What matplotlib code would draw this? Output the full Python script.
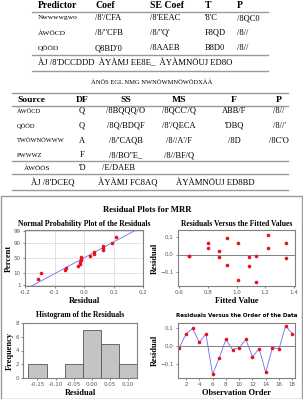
import matplotlib
matplotlib.use("Agg")
import matplotlib.pyplot as plt
import numpy as np
from matplotlib.patches import Rectangle
from statistics import NormalDist

# Data
obs_order = np.arange(1, 19)
residuals = [-0.010, 0.065, 0.095, 0.020, 0.065, -0.155, -0.065, 0.035, -0.020,
             -0.010, 0.035, -0.060, -0.015, -0.145, -0.010, -0.015, 0.110, 0.065]
fitted = [0.67, 0.80, 0.93, 0.88, 1.01, 1.14, 1.09, 0.80, 1.35,
          0.67, 1.22, 0.93, 0.88, 1.01, 1.14, 1.09, 1.22, 1.35]
hist_centers = [-0.15, -0.10, -0.05, 0.00, 0.05, 0.10]
hist_counts = [2, 0, 2, 7, 5, 2]
prob_ticks = [1, 10, 50, 90, 99]

# table texts (as they appear in the picture)
coef_header = ["Predictor", "Coef", "SE Coef", "T", "P"]
coef_rows = [
    ["Nwwwwgwo", "/8'/CFA", "/8'EEAC", "'8'C", "/8QC0"],
    ["ÀWÖCD", "/8/''CFB", "/8/''Q'", "F8QD", "/8//"],
    ["QÖÖD", "Q8BD'0", "/8AAEB", "B8D0", "/8//"],
]
coef_summary = "ÀJ /8'DCCDDD  ÀYÀMJ EE8E_  ÀYÀMNÖUJ ED8O"
anova_title = "ÀNÖS EGL NMG NWNÖWMNÖWÖDXÀÀ"
anova_header = ["Source", "DF", "SS", "MS", "F", "P"]
anova_rows = [
    ["ÀWÖCD", "Q", "/8BQQQ/O", "/8QCC'/Q", "ABB/F", "/8//"],
    ["QÖÖD", "Q", "/8Q/BDQF", "/8'/QECA", "'DBQ", "/8//'"],
    ["TWÖWNÖWWW", "A", "/8/'CAQB", "/8//A'/F", "/8D", "/8C'O"],
    ["PWWWZ", "F", "/8/BO''E_", "/8//BF/Q", "", ""],
]
anova_total = ["ÀWÖÖS", "'D", "/E/DAEB"]
anova_summary = ["ÀJ /8'DCEQ", "ÀYÀMJ FC8AQ", "ÀYÀMNÖUJ ED8BD"]

W, H = 303, 399
fig = plt.figure(figsize=(W / 100, H / 100), dpi=100)
serif = "Liberation Serif"
gray = "#9a9a9a"


def fx(px):
    return px / W


def fy(py):
    return 1 - py / H


def hline(y, x0, x1):
    fig.add_artist(plt.Line2D([fx(x0), fx(x1)], [fy(y), fy(y)], color=gray, lw=1.0))


# ---- coefficient table ----
cx = [38, 95, 150, 205, 237]
for x, t in zip(cx, coef_header):
    fig.text(fx(x), fy(6), t, family=serif, weight="bold", fontsize=7, va="center")
hline(11.5, 32, 268)
for i, row in enumerate(coef_rows):
    y = 18 + i * 15
    for j, (x, t) in enumerate(zip(cx, row)):
        fig.text(fx(x), fy(y), t, family=serif, fontsize=5.4 if j == 0 else 6,
                 va="center")
hline(55, 32, 268)
fig.text(fx(38), fy(63), coef_summary, family=serif, fontsize=6.2, va="center")
hline(71, 32, 268)
fig.text(0.5, fy(82), anova_title, family=serif, fontsize=4.7, va="center", ha="center")

# ---- anova table ----
hline(93, 12, 288)
ax_cols = [17, 78, 122, 175, 230, 275]
for j, (x, t) in enumerate(zip(ax_cols, anova_header)):
    fig.text(fx(x + (0 if j == 0 else 4)), fy(100), t, family=serif, weight="bold",
             fontsize=6.8, va="center", ha="left" if j == 0 else "center")
hline(106, 12, 288)
for i, row in enumerate(anova_rows):
    y = 111 + i * 14.8
    for j, (x, t) in enumerate(zip(ax_cols, row)):
        fig.text(fx(x + (0 if j == 0 else 4)), fy(y), t, family=serif,
                 fontsize=4.6 if j == 0 else 6, va="center",
                 ha="left" if j == 0 else "center")
hline(161, 12, 288)
for j, (x, t) in enumerate(zip([37, 82, 119], anova_total)):
    fig.text(fx(x), fy(168), t, family=serif, fontsize=5.2 if j == 0 else 6,
             va="center", ha="center")
hline(174, 12, 288)
for x, t in zip([53, 128, 215], anova_summary):
    fig.text(fx(x), fy(183), t, family=serif, fontsize=6.2, va="center", ha="center")
hline(189.5, 12, 288)

# ---- residual plots frame ----
fig.add_artist(Rectangle((fx(0.5), 0), fx(301.5), fy(196.5), transform=fig.transFigure,
                         fill=False, edgecolor=gray, lw=1.0))
fig.text(fx(147), fy(210), "Residual Plots for MRR", family=serif, weight="bold",
         fontsize=6.2, ha="center", va="center")


def style(ax):
    for s in ax.spines.values():
        s.set_color("#808080")
        s.set_linewidth(0.8)
    ax.tick_params(labelsize=4, colors="#555555", length=1.5, width=0.5, pad=1.5)


red = "#e8121e"
blue = "#6b6bf0"

# Normal probability plot
ax1 = fig.add_axes([fx(25), fy(286), fx(118), (286 - 230) / H])
style(ax1)
r_sorted = np.sort(residuals)
n = len(r_sorted)
nd = NormalDist()
z = [nd.inv_cdf((i + 1 - 0.3) / (n + 0.4)) for i in range(n)]
mu, sd = np.mean(residuals), np.std(residuals, ddof=1)
zl = np.array([-2.6, 2.6])
ax1.plot(mu + sd * zl, zl, color=blue, lw=0.6)
ax1.plot(r_sorted, z, "o", color=red, ms=2.6, mec="none")
ax1.set_yticks([nd.inv_cdf(p / 100) for p in prob_ticks])
ax1.set_yticklabels([str(p) for p in prob_ticks])
ax1.set_ylim(-2.42, 2.42)
ax1.set_xlim(-0.2, 0.2)
ax1.set_xticks([-0.2, -0.1, 0.0, 0.1, 0.2])
ax1.set_xticklabels(["-0.2", "-0.1", "0.0", "0.1", "0.2"])
ax1.grid(True, color="#d8d8d8", lw=0.5)
ax1.set_axisbelow(True)
ax1.set_title("Normal Probability Plot of the Residuals", family=serif, weight="bold",
              fontsize=5.5, pad=3)
ax1.set_xlabel("Residual", family=serif, weight="bold", fontsize=6, labelpad=1)
ax1.set_ylabel("Percent", family=serif, weight="bold", fontsize=6, labelpad=1)

# Residuals vs fitted
ax2 = fig.add_axes([fx(178), fy(286), fx(117), (286 - 230) / H])
style(ax2)
ax2.axhline(0, color="#808080", lw=0.7)
ax2.plot(fitted, residuals, "o", color=red, ms=2.6, mec="none")
ax2.set_xlim(0.59, 1.41)
ax2.set_ylim(-0.18, 0.14)
ax2.set_xticks([0.6, 0.8, 1.0, 1.2, 1.4])
ax2.set_yticks([-0.1, 0.0, 0.1])
ax2.set_title("Residuals Versus the Fitted Values", family=serif, weight="bold",
              fontsize=5.5, pad=3)
ax2.set_xlabel("Fitted Value", family=serif, weight="bold", fontsize=6, labelpad=1)
ax2.set_ylabel("Residual", family=serif, weight="bold", fontsize=6, labelpad=1)

# Histogram
ax3 = fig.add_axes([fx(23), fy(378), fx(114), (378 - 323) / H])
style(ax3)
ax3.bar(hist_centers, hist_counts, width=0.05, color="#c4c4c4", edgecolor="#555555", lw=0.6)
ax3.set_xlim(-0.19, 0.125)
ax3.set_ylim(0, 8)
ax3.set_xticks(hist_centers)
ax3.set_xticklabels(["-0.15", "-0.10", "-0.05", "0.00", "0.05", "0.10"])
ax3.set_yticks([0, 2, 4, 6, 8])
ax3.set_title("Histogram of the Residuals", family=serif, weight="bold", fontsize=5.5, pad=4)
ax3.set_xlabel("Residual", family=serif, weight="bold", fontsize=6, labelpad=1)
ax3.set_ylabel("Frequency", family=serif, weight="bold", fontsize=6, labelpad=1)

# Residuals vs order
ax4 = fig.add_axes([fx(178), fy(378), fx(117), (378 - 323) / H])
style(ax4)
ax4.axhline(0, color="#808080", lw=0.7)
ax4.plot(obs_order, residuals, "-", color=blue, lw=0.6)
ax4.plot(obs_order, residuals, "o", color=red, ms=2.6, mec="none")
ax4.set_xlim(0.8, 18.4)
ax4.set_ylim(-0.175, 0.125)
ax4.set_xticks(range(2, 19, 2))
ax4.set_yticks([-0.1, 0.0, 0.1])
ax4.set_title("Residuals Versus the Order of the Data", family="DejaVu Sans", weight="bold",
              fontsize=4.0, pad=4)
ax4.set_xlabel("Observation Order", family=serif, weight="bold", fontsize=6, labelpad=1)
ax4.set_ylabel("Residual", family=serif, weight="bold", fontsize=6, labelpad=1)

fig.savefig("out.png", dpi=100)
